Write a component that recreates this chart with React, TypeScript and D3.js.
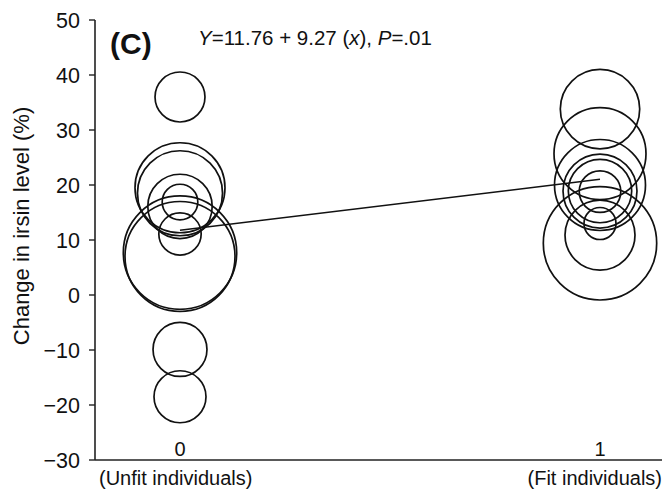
import React from "react";
import * as d3 from "d3";

// Change in irisin level per individual, grouped by fitness (0 = unfit, 1 = fit)
const unfitValues = [36, 19.5, 18.5, 16.1, 16.9, 11.1, 7.7, 7.0, -9.9, -18.5];
const unfitWeights = [19.2, 62.3, 55.6, 31.9, 9.75, 13.8, 98.9, 93.1, 22.4, 20.8];
const fitValues = [33.8, 25.7, 20.0, 18.9, 18.9, 18.8, 13.0, 10.9, 9.4];
const fitWeights = [48.5, 65.1, 63.7, 42.1, 30.9, 13.3, 7.9, 37.7, 98.9];

const yTicks = [50, 40, 30, 20, 10, 0, -10, -20, -30];
const groups = [0, 1];
const groupLabels = ["(Unfit individuals)", "(Fit individuals)"];

const intercept = 11.76;
const slope = 9.27;

const W = 662;
const H = 491;
const FONT = "'Liberation Sans', Arial, Helvetica, sans-serif";

export default function App() {
  const axisX = 95;
  const axisY = 460;
  const x = d3.scaleLinear().domain([0, 1]).range([180, 600]);
  const y = d3.scaleLinear().domain([-30, 50]).range([axisY, 20]);
  const r = d3.scaleSqrt().domain([0, 100]).range([0, 57]);

  const points = [
    ...unfitValues.map((v, i) => ({ g: 0, v, w: unfitWeights[i] })),
    ...fitValues.map((v, i) => ({ g: 1, v, w: fitWeights[i] })),
  ];

  const fitLine = d3
    .line<number>()
    .x((g) => x(g))
    .y((g) => y(intercept + slope * g));

  return (
    <svg
      width={W}
      height={H}
      style={{ position: "fixed", left: 0, top: 0, background: "#fff" }}
      fontFamily={FONT}
    >
      <rect width={W} height={H} fill="#fff" />

      {/* y axis */}
      <line x1={axisX} x2={axisX} y1={y(50)} y2={axisY} stroke="#222" strokeWidth={1.6} />
      {yTicks.map((t) => (
        <g key={t}>
          <line x1={axisX - 6} x2={axisX} y1={y(t)} y2={y(t)} stroke="#222" strokeWidth={1.4} />
          <text
            x={80}
            y={y(t)}
            dy="0.35em"
            textAnchor="end"
            fontSize={21.5}
            fill="#111"
          >
            {t < 0 ? `\u2212${Math.abs(t)}` : t}
          </text>
        </g>
      ))}

      {/* x axis */}
      <line x1={axisX} x2={W} y1={axisY} y2={axisY} stroke="#222" strokeWidth={1.6} />
      {groups.map((g) => (
        <text key={g} x={x(g)} y={axisY - 4} textAnchor="middle" fontSize={20} fill="#111">
          {g}
        </text>
      ))}
      <text x={99} y={485} fontSize={20} fill="#111">
        {groupLabels[0]}
      </text>
      <text x={W} y={485} textAnchor="end" fontSize={20} fill="#111">
        {groupLabels[1]}
      </text>

      {/* y axis title */}
      <text
        transform={`translate(29, 226) rotate(-90)`}
        textAnchor="middle"
        fontSize={22}
        fill="#111"
      >
        Change in irsin level (%)
      </text>

      {/* bubbles */}
      {points.map((p, i) => (
        <circle
          key={i}
          cx={x(p.g)}
          cy={y(p.v)}
          r={r(p.w)}
          fill="none"
          stroke="#111"
          strokeWidth={1.7}
        />
      ))}

      {/* regression line */}
      <path d={fitLine(groups) ?? ""} fill="none" stroke="#111" strokeWidth={1.5} />

      {/* panel label and equation */}
      <text x={110} y={54} fontSize={30} fontWeight="bold" fill="#111">
        (C)
      </text>
      <text x={198} y={44.5} fontSize={20.5} fill="#111">
        <tspan fontStyle="italic">Y</tspan>
        {"=11.76 + 9.27 ("}
        <tspan fontStyle="italic">x</tspan>
        {"), "}
        <tspan fontStyle="italic">P</tspan>
        {"=.01"}
      </text>
    </svg>
  );
}
